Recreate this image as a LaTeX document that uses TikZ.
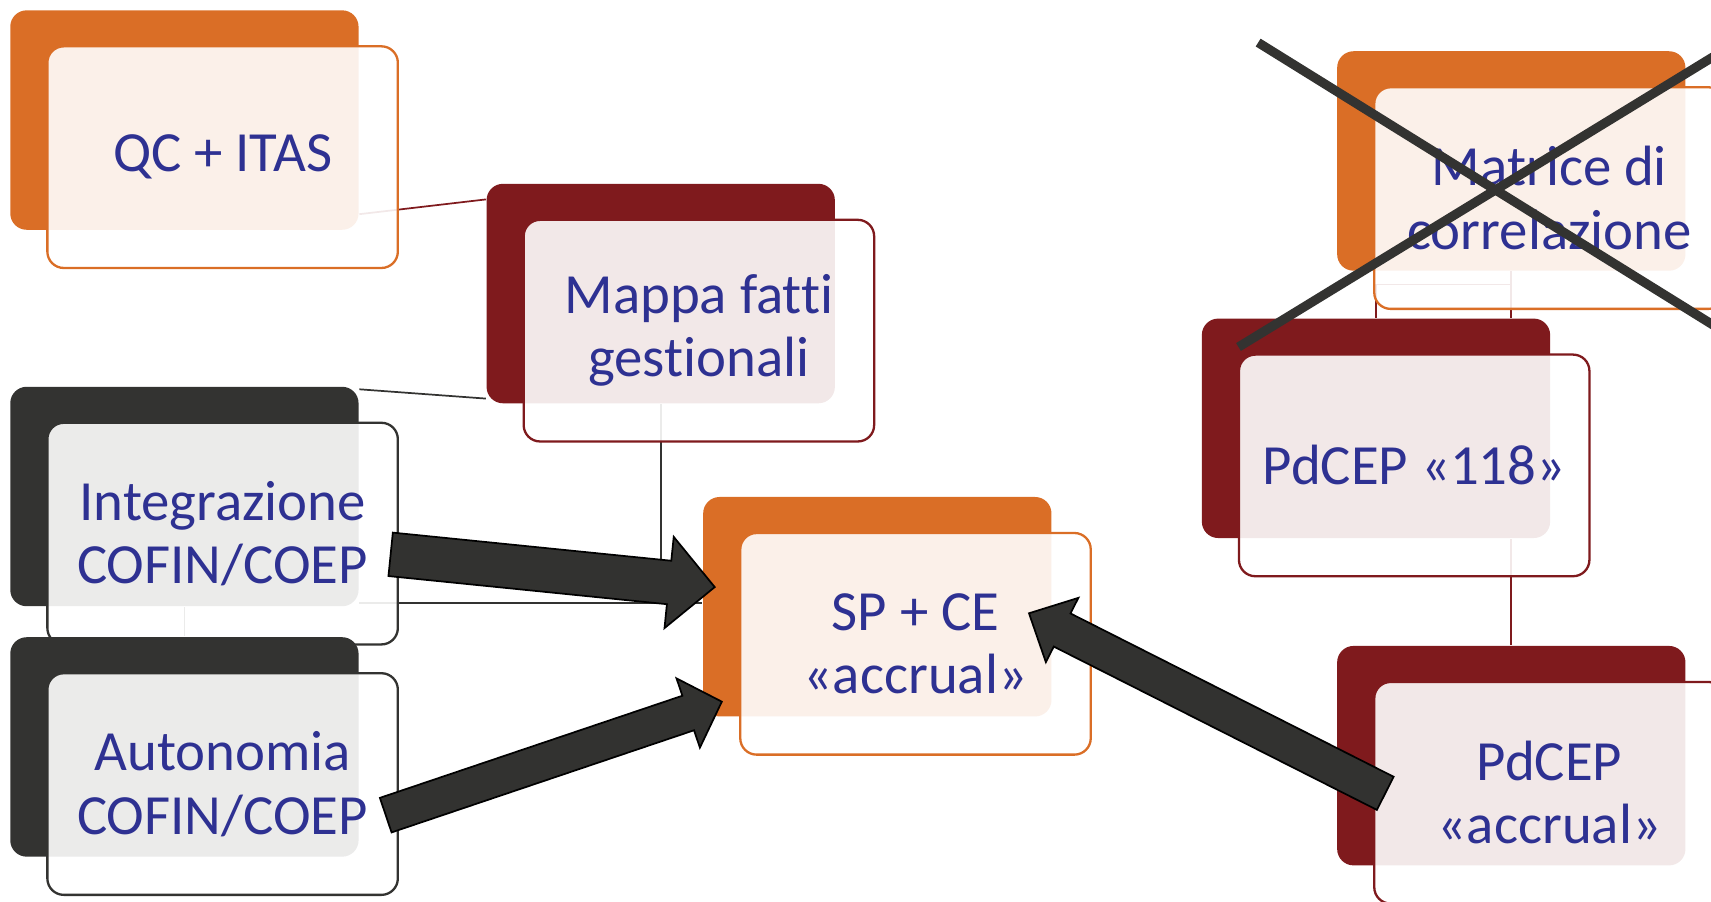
\documentclass[tikz,border=0pt]{standalone}
\usepackage{fontspec}
\setmainfont{Carlito}[Ligatures={NoCommon,NoRequired,NoContextual}]
\usetikzlibrary{calc,backgrounds}
\definecolor{accOrange}{RGB}{218,110,38}
\definecolor{accRed}{RGB}{127,26,29}
\definecolor{accGray}{RGB}{51,51,49}
\definecolor{arrowFill}{RGB}{50,50,48}
\definecolor{txtBlue}{RGB}{46,49,146}
\newcommand\accentbox[5]{%
  \node[backbox, fill=#4] (#1B) at (#2,#3) {};
  \node[frontbox, draw=#4] (#1) at ($(#1B.center)+(35,34)$) {#5};}
\newcommand\blockarrow[5]{%
  \coordinate (ba-h) at ($(#2)!#5!(#1)$);
  \draw[bigarrow] ($(#1)!#3!90:(#2)$) -- ($(ba-h)!#3!90:(#2)$) -- ($(ba-h)!#4!90:(#2)$)
    -- (#2) -- ($(ba-h)!#4!-90:(#2)$) -- ($(ba-h)!#3!-90:(#2)$) -- ($(#1)!#3!-90:(#2)$) -- cycle;}
\begin{document}
\begin{tikzpicture}[x=0.01cm,y=-0.01cm,
  backbox/.style={rectangle, rounded corners=0.15cm, minimum width=3.19cm, minimum height=2.01cm, inner sep=0pt},
  frontbox/.style={rectangle, rounded corners=0.15cm, minimum width=3.21cm, minimum height=2.03cm, inner sep=0pt,
    fill=white, fill opacity=0.9, text opacity=1, line width=0.6pt, align=center, text=txtBlue,
    font=\fontsize{14.8}{16.5}\selectfont},
  conn/.style={line width=0.45pt},
  bigarrow/.style={fill=arrowFill, draw=black, line width=0.45pt, line join=miter},
  cross/.style={draw=accGray, line width=2.4pt}]
\clip (0,0) rectangle (1568,826);
% boxes
\accentbox{qc}{169}{110}{accOrange}{QC + ITAS}
\accentbox{map}{605.5}{269}{accRed}{Mappa fatti\\gestionali}
\accentbox{int}{169}{455}{accGray}{Integrazione\\COFIN/COEP}
\accentbox{aut}{169}{684.5}{accGray}{Autonomia\\COFIN/COEP}
\accentbox{sp}{804}{556}{accOrange}{SP + CE\\«accrual»}
\accentbox{mat}{1385}{147.5}{accOrange}{Matrice di\\correlazione}
\accentbox{pa}{1261}{392.5}{accRed}{PdCEP «118»}
\accentbox{pb}{1385}{692.5}{accRed}{PdCEP\\«accrual»}
% connectors (behind)
\begin{scope}[on background layer]
  \draw[conn, accRed] ($(qcB.south east)+(0,-15)$) -- ($(mapB.north west)+(0,15)$);
  \draw[conn, accGray] ($(intB.north east)+(0,3)$) -- ($(mapB.south west)+(0,-5)$);
  \coordinate (j1) at ($(intB.south east)+(0,-4)$);
  \draw[conn, accGray] (mapB.south) -- (mapB.south |- j1);
  \draw[conn, accGray] (j1) -- (spB.west |- j1);
  \draw[conn, accGray] (intB.south) -- (autB.north);
  \coordinate (j2) at ($(matB.south)+(0,12)$);
  \draw[conn, accRed] (matB.south) -- (matB.south |- paB.north);
  \draw[conn, accRed] (j2) -- (paB.north |- j2) -- (paB.north);
  \draw[conn, accRed] (pbB.north |- paB.south) -- (pbB.north);
\end{scope}
% block arrows
\coordinate (a1s) at (358,508);   \coordinate (a1e) at (655,538);
\coordinate (a2s) at (353.5,747); \coordinate (a2e) at (661.5,643);
\coordinate (a3s) at (1269.5,727);\coordinate (a3e) at (943,562);
\blockarrow{a1s}{a1e}{0.2cm}{0.42cm}{0.42cm}
\blockarrow{a2s}{a2e}{0.167cm}{0.335cm}{0.325cm}
\blockarrow{a3s}{a3e}{0.17cm}{0.33cm}{0.34cm}
% cross over Matrice
\coordinate (x1a) at (1153,39);  \coordinate (x1b) at (1575,301);
\coordinate (x2a) at (1135,318); \coordinate (x2b) at (1575,49);
\draw[cross] (x1a) -- (x1b);
\draw[cross] (x2a) -- (x2b);
\end{tikzpicture}
\end{document}
